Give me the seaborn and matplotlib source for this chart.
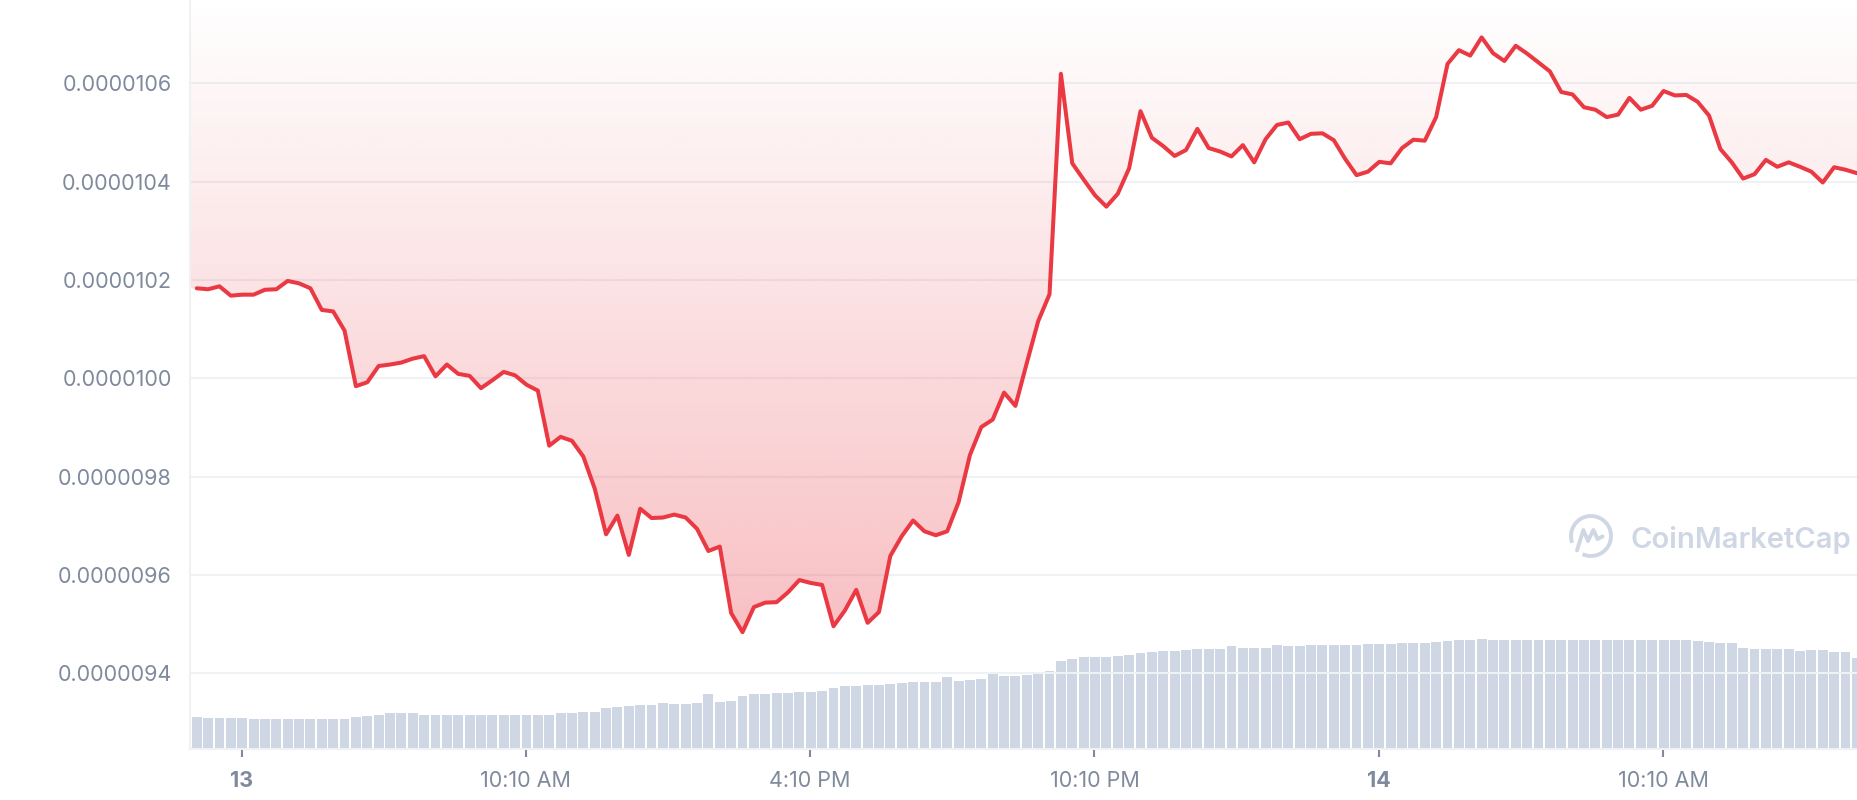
import numpy as np
import pandas as pd
import matplotlib
matplotlib.use("Agg")
import matplotlib.pyplot as plt
import seaborn as sns
from matplotlib.patches import Polygon, Arc
from matplotlib.colors import to_rgb

# ---------------- data (price in units of 1e-7, volume in relative units) ----------------
price_e7 = [
    101.83, 101.81, 101.87, 101.68, 101.70, 101.70, 101.80, 101.81, 101.98, 101.93,
    101.83, 101.39, 101.36, 100.97, 99.84, 99.92, 100.25, 100.28, 100.32, 100.40,
    100.45, 100.04, 100.28, 100.09, 100.05, 99.80, 99.96, 100.13, 100.06, 99.87,
    99.75, 98.63, 98.81, 98.73, 98.41, 97.76, 96.83, 97.21, 96.41, 97.35,
    97.16, 97.17, 97.23, 97.17, 96.94, 96.49, 96.58, 95.23, 94.84, 95.35,
    95.44, 95.45, 95.65, 95.90, 95.84, 95.80, 94.96, 95.28, 95.70, 95.03,
    95.25, 96.39, 96.79, 97.11, 96.89, 96.81, 96.89, 97.48, 98.44, 99.01,
    99.16, 99.71, 99.44, 100.31, 101.16, 101.71, 106.19, 104.37, 104.04, 103.72,
    103.49, 103.75, 104.27, 105.43, 104.89, 104.72, 104.52, 104.64, 105.07, 104.68,
    104.61, 104.51, 104.74, 104.39, 104.86, 105.15, 105.20, 104.86, 104.97, 104.98,
    104.84, 104.46, 104.13, 104.20, 104.40, 104.37, 104.68, 104.85, 104.83, 105.31,
    106.39, 106.67, 106.56, 106.93, 106.61, 106.45, 106.76, 106.60, 106.42, 106.24,
    105.82, 105.77, 105.51, 105.46, 105.31, 105.36, 105.70, 105.46, 105.54, 105.84,
    105.75, 105.76, 105.62, 105.34, 104.66, 104.39, 104.06, 104.15, 104.44, 104.30,
    104.39, 104.30, 104.20, 103.98, 104.29, 104.24, 104.17,
]
volume = [
    31.6, 30.6, 30.6, 30.6, 30.6, 29.6, 29.6, 29.6, 29.6, 29.6,
    29.6, 29.6, 29.6, 29.6, 31.6, 32.7, 34.2, 35.7, 35.7, 35.7,
    34.2, 34.2, 34.2, 34.2, 34.2, 34.2, 34.2, 34.2, 34.2, 34.2,
    34.2, 34.2, 36.2, 36.2, 37.2, 37.2, 40.8, 42.3, 43.4, 44.4,
    44.4, 46.4, 45.4, 45.4, 46.4, 54.6, 47.4, 48.5, 52.6, 54.6,
    54.6, 55.6, 55.6, 56.6, 56.6, 57.7, 61.2, 63.3, 63.3, 64.3,
    64.3, 65.3, 66.3, 67.3, 67.3, 67.3, 72.4, 68.4, 69.4, 70.4,
    76.5, 73.5, 73.5, 74.5, 76.5, 77.6, 88.3, 90.3, 92.3, 92.3,
    92.3, 93.4, 94.4, 96.4, 97.4, 98.5, 98.5, 99.5, 100.5, 100.5,
    100.5, 102.6, 101.5, 101.5, 101.5, 103.6, 102.6, 102.6, 103.6, 103.6,
    103.6, 103.6, 103.6, 104.6, 104.6, 104.6, 105.6, 105.6, 105.6, 106.6,
    107.7, 108.7, 109.2, 110.2, 109.2, 108.7, 108.7, 108.7, 108.7, 108.7,
    109.2, 109.2, 109.2, 109.2, 109.2, 109.2, 109.2, 109.2, 109.2, 109.2,
    109.2, 109.2, 107.7, 106.6, 105.6, 105.6, 101.5, 100.5, 100.5, 100.5,
    100.5, 98.5, 99.5, 99.5, 97.4, 97.4, 91.3,
]
x_tick_pos = [3.95, 28.95, 53.95, 78.95, 103.95, 128.95]
x_tick_labels = ["13", "10:10 AM", "4:10 PM", "10:10 PM", "14", "10:10 AM"]
bold_labels = {"13", "14"}
y_ticks_e7 = [94, 96, 98, 100, 102, 104, 106]

# ---------------- style ----------------
RED = "#EA3943"
VOL = "#CFD6E4"
GRID = "#EFF2F5"
TXT = "#808A9D"

sns.set_theme(style="white")
plt.rcParams["font.family"] = ["Inter", "DejaVu Sans"]

W, H = 1858, 800
fig = plt.figure(figsize=(W / 100, H / 100), dpi=100)
fig.patch.set_facecolor("white")

ax = fig.add_axes([190 / W, 51 / H, 1668 / W, 749 / H])
axv = ax.twinx()
axv.set_zorder(0)
ax.set_zorder(1)
ax.patch.set_visible(False)

df = pd.DataFrame({
    "idx": np.arange(len(price_e7)),
    "price": np.array(price_e7) * 1e-7,
    "volume": volume,
})

XL = (-0.59, 146.1)
YL = (92.465e-7, 107.69e-7)

# volume bars
sns.barplot(data=df, x="idx", y="volume", ax=axv, color=VOL, saturation=1,
            width=0.87, native_scale=True, errorbar=None, linewidth=0,
            edgecolor="none")
axv.set_ylim(0, 749)
axv.set_yticks([])
axv.set_ylabel("")
for s in axv.spines.values():
    s.set_visible(False)

# gradient fill above the price line (extends to the plot edges)
rgb = to_rgb(RED)
n = 512
grad = np.zeros((n, 1, 4))
grad[:, 0, 0], grad[:, 0, 1], grad[:, 0, 2] = rgb
grad[:, 0, 3] = np.linspace(0.0, 0.378, n)
im = ax.imshow(grad, extent=[XL[0], XL[1], YL[0], YL[1]], aspect="auto",
               origin="upper", zorder=1, interpolation="bilinear")
p = df["price"].to_numpy()
verts = [(XL[0], YL[1]), (XL[0], p[0])] + list(zip(df["idx"], p)) + \
        [(XL[1], p[-1]), (XL[1], YL[1])]
poly = Polygon(verts, closed=True, facecolor="none", edgecolor="none",
               transform=ax.transData)
ax.add_patch(poly)
im.set_clip_path(poly)

# price line
sns.lineplot(data=df, x="idx", y="price", ax=ax, color=RED, linewidth=2.9,
             zorder=3, solid_joinstyle="round", solid_capstyle="round")

ax.set_xlim(*XL)
ax.set_ylim(*YL)
ax.set_xlabel("")
ax.set_ylabel("")

ax.set_yticks([v * 1e-7 for v in y_ticks_e7])
ax.set_yticklabels([f"{v * 1e-7:.7f}" for v in y_ticks_e7])
ax.set_xticks(x_tick_pos)
ax.set_xticklabels(x_tick_labels)
for lbl in ax.get_xticklabels():
    if lbl.get_text() in bold_labels:
        lbl.set_fontweight("bold")
        lbl.set_color("#6F7B91")

ax.yaxis.grid(True, color=GRID, linewidth=1.5)
ax.xaxis.grid(False)
ax.tick_params(axis="y", length=0, pad=13, labelsize=15.5, labelcolor=TXT)
ax.tick_params(axis="x", bottom=True, length=6, width=1.5, color=TXT,
               pad=10, labelsize=15.5, labelcolor=TXT)
for side in ["top", "right"]:
    ax.spines[side].set_visible(False)
for side in ["left", "bottom"]:
    ax.spines[side].set_visible(True)
    ax.spines[side].set_color(GRID)
    ax.spines[side].set_linewidth(1.5)

# watermark
fig.text(1631 / W, (800 - 548) / H, "CoinMarketCap", fontsize=21,
         fontweight="semibold", color=VOL, ha="left", va="baseline")
lax = fig.add_axes([(1591 - 26) / W, (800 - 536 - 26) / H, 52 / W, 52 / H])
lax.set_xlim(-1.3, 1.3)
lax.set_ylim(-1.3, 1.3)
lax.axis("off")
lax.add_patch(Arc((0, 0), 2, 2, theta1=-115, theta2=200, color=VOL, lw=2.8))
mx = [-0.70, -0.38, -0.15, 0.12, 0.33, 0.58]
my = [-0.72, 0.30, -0.25, 0.30, -0.15, -0.02]
lax.plot(mx, my, color=VOL, lw=2.8, solid_joinstyle="round",
         solid_capstyle="round")

fig.savefig("out.png", dpi=100, facecolor="white")
